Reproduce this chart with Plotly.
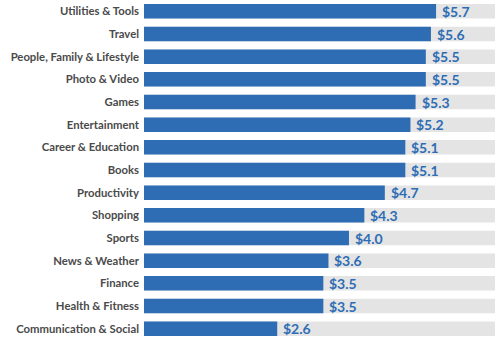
import plotly.graph_objects as go

categories = ["Utilities & Tools", "Travel", "People, Family & Lifestyle", "Photo & Video",
              "Games", "Entertainment", "Career & Education", "Books", "Productivity",
              "Shopping", "Sports", "News & Weather", "Finance", "Health & Fitness",
              "Communication & Social"]
values = [5.7, 5.6, 5.5, 5.5, 5.3, 5.2, 5.1, 5.1, 4.7, 4.3, 4.0, 3.6, 3.5, 3.5, 2.6]
track_max = 6.85
track = [track_max] * len(categories)
labels = ["$%.1f" % v for v in values]

BLUE = "#2E6DB4"
GRAY = "#E4E4E4"

fig = go.Figure()
fig.add_trace(go.Bar(y=categories, x=track, orientation="h", marker=dict(color=GRAY, line_width=0),
                     hoverinfo="skip", showlegend=False))
fig.add_trace(go.Bar(y=categories, x=values, orientation="h", marker=dict(color=BLUE, line_width=0),
                     showlegend=False))

for c, v, t in zip(categories, values, labels):
    fig.add_annotation(x=v, y=c, text=t, xanchor="left", yanchor="middle", showarrow=False,
                       xshift=4, font=dict(family="Lato", size=14, color=BLUE, weight="bold"))

fig.update_layout(
    width=500, height=341, margin=dict(l=144, r=5, t=0, b=1),
    paper_bgcolor="white", plot_bgcolor="white",
    barmode="overlay", bargap=0.36,
    xaxis=dict(range=[0, track_max], visible=False, fixedrange=True),
    yaxis=dict(autorange="reversed", showgrid=False, zeroline=False, ticks="",
               ticklabelstandoff=4,
               tickfont=dict(family="Lato", size=11.3, color="#4A4A4A", weight="bold")),
)
fig.write_html("out.html")
